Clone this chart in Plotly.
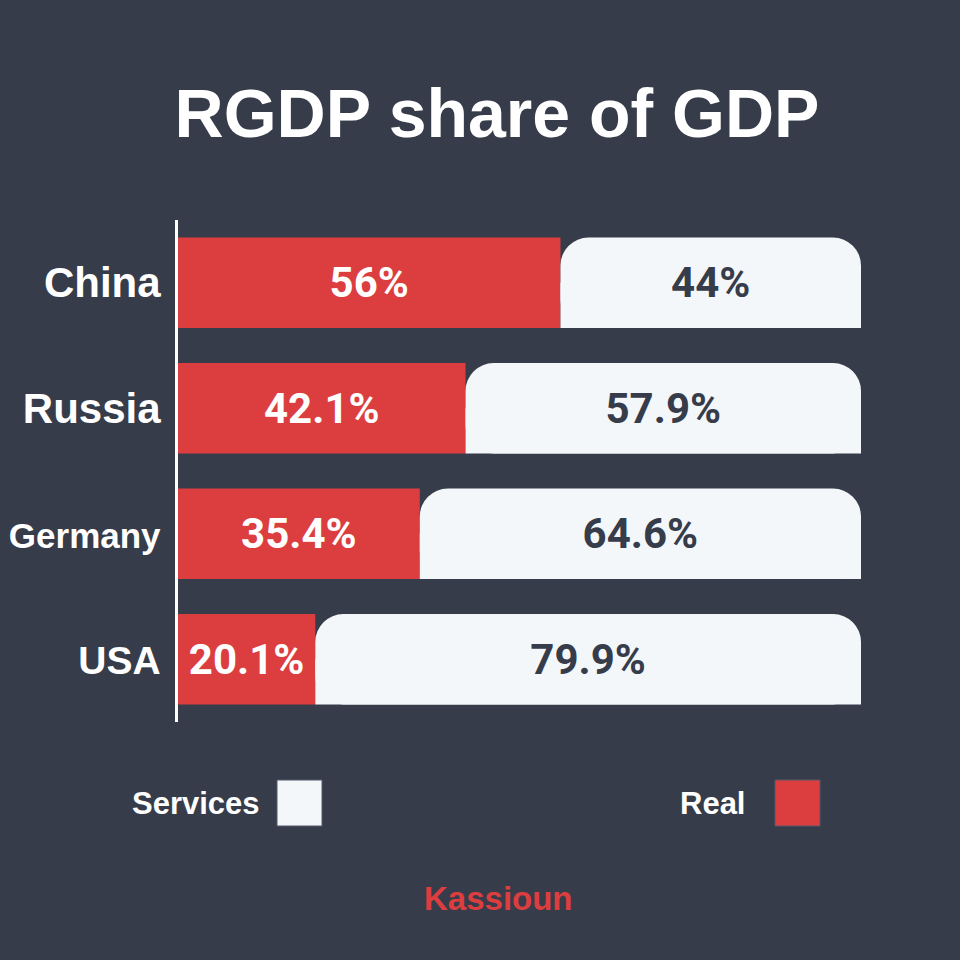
import plotly.graph_objects as go

# data (bottom to top on the chart)
countries = ['USA', 'Germany', 'Russia', 'China']
tick_sizes = [39, 35, 42, 42]
real = [20.1, 35.4, 42.1, 56]
services = [79.9, 64.6, 57.9, 44]

BG = '#373c4a'
RED = '#dc3e40'
LIGHT = '#f3f7fa'
NARROW = 'Roboto, Liberation Sans, sans-serif'
BOLD = 'Liberation Sans, Arial, sans-serif'

W, H = 960, 960
L, R, T, B = 178, 99, 220, 238
BAR_W = 0.72


def px_x(p):
    return (p - L) / (W - L - R)


def px_y(p):
    return (H - B - p) / (H - T - B)


fig = go.Figure()

# real share
fig.add_trace(go.Bar(
    y=countries, x=real, base=0, orientation='h',
    width=BAR_W, offset=-BAR_W / 2,
    marker=dict(color=RED, line=dict(width=0)),
    text=[f'{v:g}%' for v in real],
    textposition='inside', insidetextanchor='middle', textangle=0,
    constraintext='none',
    insidetextfont=dict(family=NARROW, size=42, color='white', weight='bold'),
    hoverinfo='skip',
))

# services, lower half kept square (only top-right corner is rounded)
fig.add_trace(go.Bar(
    y=countries, x=services, base=real, orientation='h',
    width=BAR_W / 2, offset=-BAR_W / 2,
    marker=dict(color=LIGHT, line=dict(width=0)),
    hoverinfo='skip',
))

# services
fig.add_trace(go.Bar(
    y=countries, x=services, base=real, orientation='h',
    width=BAR_W, offset=-BAR_W / 2,
    marker=dict(color=LIGHT, line=dict(width=0), cornerradius=28),
    text=[f'{v:g}%' for v in services],
    textposition='inside', insidetextanchor='middle', textangle=0,
    constraintext='none',
    insidetextfont=dict(family=NARROW, size=42, color=BG, weight='bold'),
    hoverinfo='skip',
))

fig.update_layout(
    width=W, height=H,
    paper_bgcolor=BG, plot_bgcolor=BG,
    barmode='overlay', showlegend=False,
    margin=dict(l=L, r=R, t=T, b=B, autoexpand=False),
    title=dict(
        text='RGDP share of GDP', x=497 / W, xref='container', xanchor='center',
        y=1 - 113 / H, yref='container', yanchor='middle',
        font=dict(family=BOLD, size=68, color='white', weight='bold'),
    ),
    xaxis=dict(range=[0, 100], visible=False, fixedrange=True, automargin=False),
    yaxis=dict(
        range=[-0.5, 3.5], showgrid=False, zeroline=False, automargin=False,
        showline=True, linecolor='white', linewidth=3, fixedrange=True,
        tickmode='array', tickvals=countries,
        ticktext=[f'<span style="font-size:{s}px">{c}</span>' for c, s in zip(countries, tick_sizes)],
        tickfont=dict(family=BOLD, size=42, color='white', weight='bold'),
        ticks='', ticklabelstandoff=6,
    ),
)

# legend, drawn by hand: text on the left of its swatch
legend_items = [('Services', LIGHT, 262, 277), ('Real', RED, 747, 775)]
for name, color, text_right, box_left in legend_items:
    fig.add_annotation(
        text=name, xref='paper', yref='paper',
        x=px_x(text_right), y=px_y(803), xanchor='right', yanchor='middle',
        showarrow=False, font=dict(family=BOLD, size=31, color='white', weight='bold'),
    )
    fig.add_shape(
        type='rect', xref='paper', yref='paper',
        x0=px_x(box_left), x1=px_x(box_left + 45), y0=px_y(826), y1=px_y(780),
        fillcolor=color, line=dict(width=1, color='#55596a'),
    )

fig.add_annotation(
    text='Kassioun', xref='paper', yref='paper',
    x=px_x(498), y=px_y(898), xanchor='center', yanchor='middle',
    showarrow=False, font=dict(family=BOLD, size=33, color=RED, weight='bold'),
)

fig.write_html('out.html', config={'displayModeBar': False},
               post_script="document.body.style.margin='0';")
